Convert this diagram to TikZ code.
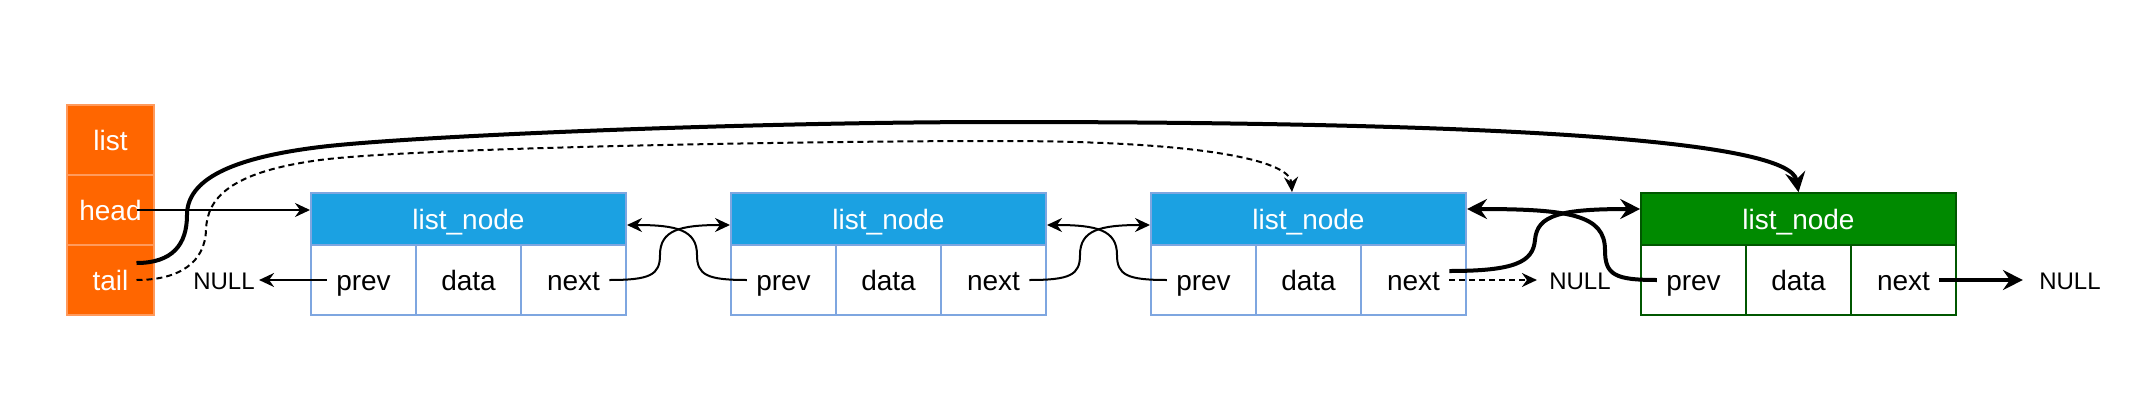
\documentclass[tikz,border=0pt]{standalone}
\usepackage{fontspec}
\setmainfont{Liberation Sans}
\usetikzlibrary{arrows.meta}
\definecolor{orangefill}{HTML}{FF6600}
\definecolor{orangeline}{HTML}{FF9A5C}
\definecolor{bluefill}{HTML}{1BA1E2}
\definecolor{blueline}{HTML}{7EA6E0}
\definecolor{greenfill}{HTML}{008A00}
\definecolor{greenline}{HTML}{005700}
\begin{document}
\begin{tikzpicture}[x=0.5pt,y=-0.5pt,
  every node/.style={font=\fontsize{14pt}{16pt}\selectfont,text height=10pt,text depth=0pt},
  listcell/.style={draw=orangeline,fill=orangefill,line width=0.8pt,minimum width=43.5pt,minimum height=35pt,inner sep=0pt,text=white},
  bhead/.style={draw=blueline,fill=bluefill,line width=1pt,minimum width=157.5pt,minimum height=26pt,inner sep=0pt,text=white},
  bcell/.style={draw=blueline,fill=white,line width=1pt,minimum width=52.5pt,minimum height=35pt,inner sep=0pt},
  ghead/.style={draw=greenline,fill=greenfill,line width=0.8pt,minimum width=157.5pt,minimum height=26pt,inner sep=0pt,text=white},
  gcell/.style={draw=greenline,fill=white,line width=0.8pt,minimum width=52.5pt,minimum height=35pt,inner sep=0pt},
  txt/.style={inner sep=4.5pt},
  nulltxt/.style={inner sep=2pt,font=\fontsize{12pt}{14pt}\selectfont,text height=8.6pt},
  thinarrow/.style={line width=1pt,-{Stealth[length=7.5pt,width=7pt,inset=2.5pt]}},
  thickarrow/.style={line width=2pt,-{Stealth[length=10pt,width=10pt,inset=3.5pt]}},
  dasharrow/.style={line width=1pt,dash pattern=on 3pt off 2pt,-{Stealth[length=7.5pt,width=7pt,inset=2.5pt]}},
]
\useasboundingbox (0,0) rectangle (2143,413);

% list struct
\node[listcell] (llist) at (110.5,140) {list};
\node[listcell] (lhead) at (110.5,210) {head};
\node[listcell] (ltail) at (110.5,280) {tail};

% blue nodes
\foreach \i/\L in {1/311,2/731,3/1151}{
  \node[bcell] (n\i p) at (\L+52.5,280) {};
  \node[bcell] (n\i d) at (\L+157.5,280) {data};
  \node[bcell] (n\i n) at (\L+262.5,280) {};
  \node[bhead] (n\i h) at (\L+157.5,219) {list\_node};
  \node[txt] (t\i prev) at (\L+52.5,280) {prev};
  \node[txt] (t\i next) at (\L+262.5,280) {next};
}
% green node
\node[gcell] (n4p) at (1693.5,280) {};
\node[gcell] (n4d) at (1798.5,280) {data};
\node[gcell] (n4n) at (1903.5,280) {};
\node[ghead] (n4h) at (1798.5,219) {list\_node};
\node[txt] (t4prev) at (1693.5,280) {prev};
\node[txt] (t4next) at (1903.5,280) {next};

% NULLs
\node[nulltxt] (nullL) at (224,281) {NULL};
\node[nulltxt] (nullM) at (1580,281) {NULL};
\node[nulltxt] (nullR) at (2070,281) {NULL};

% head
\draw[thinarrow] ([xshift=13pt]lhead.center) -- (lhead -| n1h.west);
% tail solid -> last node
\draw[thickarrow] ([xshift=13pt,yshift=8.5pt]ltail.center)
  .. controls (172,263) and (187,245) .. (187,215)
  .. controls (187,180) and (230,158) .. (320,147)
  .. controls (410,136) and (750,122) .. (1000,122)
  .. controls (1500,122) and (1790,140) .. (n4h.north);
% tail dashed -> third node
\draw[dasharrow] ([xshift=13pt]ltail.center)
  .. controls (180,280) and (205,262) .. (206,230)
  .. controls (207,198) and (230,172) .. (320,160)
  .. controls (410,148) and (800,141) .. (1000,141)
  .. controls (1200,141) and (1290,160) .. ([xshift=-8.25pt]n3h.north);

% node1 prev -> NULL
\draw[thinarrow] (t1prev.west) -- (t1prev.west -| nullL.east);

% node1 <-> node2
\draw[thinarrow] (t1next.east) .. controls (650,280) and (660,275) .. (660,255)
  .. controls (660,230) and (680,225) .. ([yshift=-3pt]n2h.west);
\draw[thinarrow] (t2prev.west) .. controls (707,280) and (697,275) .. (697,255)
  .. controls (697,230) and (677,225) .. ([yshift=-3pt]n1h.east);
% node2 <-> node3
\draw[thinarrow] (t2next.east) .. controls (1070,280) and (1080,275) .. (1080,255)
  .. controls (1080,230) and (1100,225) .. ([yshift=-3pt]n3h.west);
\draw[thinarrow] (t3prev.west) .. controls (1127,280) and (1117,275) .. (1117,255)
  .. controls (1117,230) and (1097,225) .. ([yshift=-3pt]n2h.east);

% node3 next -> NULL (dashed)
\draw[dasharrow] (t3next.east) -- ([xshift=-4pt]t3next.east -| nullM.west);
% node3 <-> node4 (thick)
\draw[thickarrow] ([yshift=4.5pt]t3next.east) .. controls (1515,271) and (1533,262) .. (1535,240)
  .. controls (1537,215) and (1560,209) .. ([yshift=5pt]n4h.west);
\draw[thickarrow] (t4prev.west) .. controls (1615,280) and (1605,275) .. (1605,250)
  .. controls (1605,215) and (1570,209) .. ([yshift=5pt]n3h.east);
% node4 next -> NULL
\draw[thickarrow] (t4next.east) -- ([xshift=-6pt]t4next.east -| nullR.west);
\end{tikzpicture}
\end{document}
